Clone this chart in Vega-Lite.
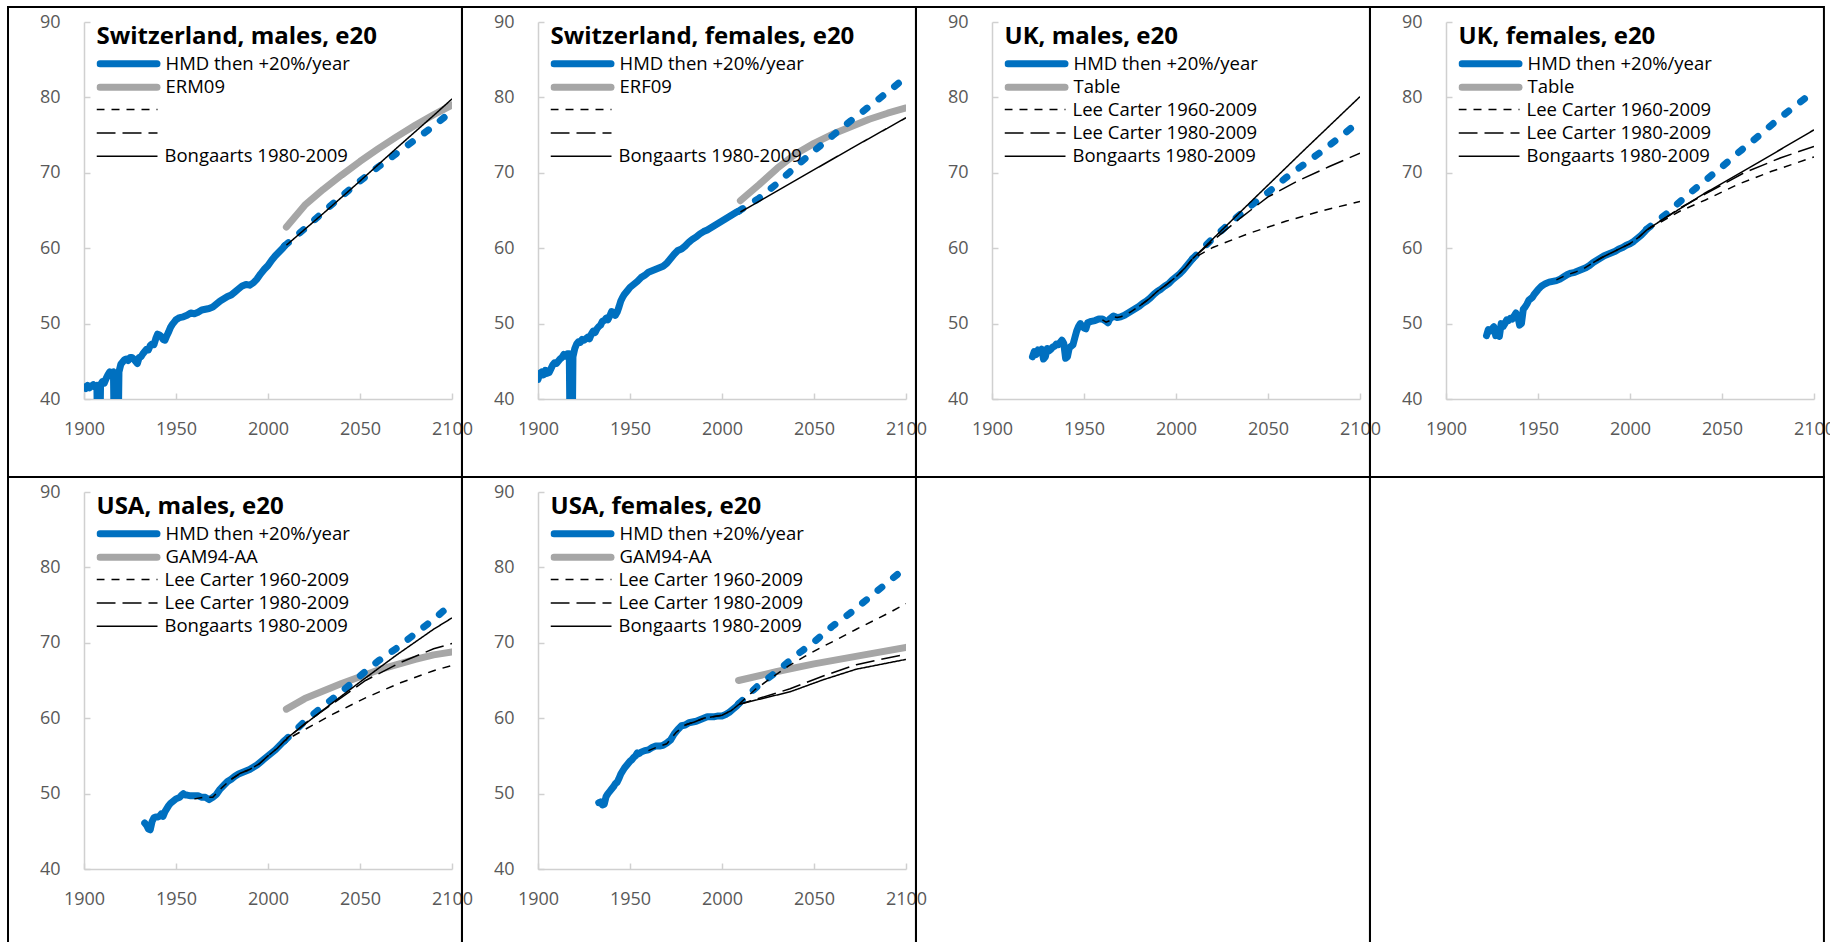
{
"$schema": "https://vega.github.io/schema/vega-lite/v6.json",
"background": "white",
"padding": {"left": 7, "top": 5, "right": 0, "bottom": 0},
"config": {
  "font": "Open Sans",
  "view": {"stroke": null},
  "axis": {"domainColor": "#D0D0D0", "domainWidth": 1.5, "tickColor": "#D0D0D0", "tickWidth": 1.5, "tickSize": -6, "labelColor": "#595959", "labelFont": "Open Sans", "labelFontSize": 18, "labelFlush": false, "grid": false, "title": null},
  "legend": {"symbolType": "stroke", "symbolSize": 3249, "clipHeight": 18, "rowPadding": 4.4, "labelFont": "Open Sans", "labelFontSize": 18.5, "labelColor": "black", "labelLimit": 400, "titleFont": "Open Sans", "titleFontSize": 24, "titleFontWeight": "bold", "titleColor": "black", "titleLimit": 600, "titlePadding": 5.75, "labelOffset": 5, "symbolOffset": 0, "padding": 0, "offset": 0}
},
"datasets": {
"CHm": [
{"s":"HMD then +20%/year","t":1900,"v":41.6},{"s":"HMD then +20%/year","t":1901,"v":41.4},{"s":"HMD then +20%/year","t":1902,"v":41.8},{"s":"HMD then +20%/year","t":1903,"v":41.5},{"s":"HMD then +20%/year","t":1904,"v":41.7},{"s":"HMD then +20%/year","t":1905,"v":41.9},{"s":"HMD then +20%/year","t":1906,"v":41.6},{"s":"HMD then +20%/year","t":1907,"v":41.8},{"s":"HMD then +20%/year","t":1908,"v":25},{"s":"HMD then +20%/year","t":1909,"v":41.9},{"s":"HMD then +20%/year","t":1910,"v":42.3},{"s":"HMD then +20%/year","t":1911,"v":42.1},{"s":"HMD then +20%/year","t":1912,"v":42.7},{"s":"HMD then +20%/year","t":1913,"v":43.2},{"s":"HMD then +20%/year","t":1914,"v":43.6},{"s":"HMD then +20%/year","t":1915,"v":43.4},{"s":"HMD then +20%/year","t":1916,"v":43.6},{"s":"HMD then +20%/year","t":1917,"v":25},{"s":"HMD then +20%/year","t":1918,"v":25},{"s":"HMD then +20%/year","t":1919,"v":43.6},{"s":"HMD then +20%/year","t":1920,"v":44.6},{"s":"HMD then +20%/year","t":1921,"v":44.9},{"s":"HMD then +20%/year","t":1922,"v":45.2},{"s":"HMD then +20%/year","t":1923,"v":45.3},{"s":"HMD then +20%/year","t":1924,"v":45.1},{"s":"HMD then +20%/year","t":1925,"v":45.5},{"s":"HMD then +20%/year","t":1926,"v":45.5},{"s":"HMD then +20%/year","t":1927,"v":45.3},{"s":"HMD then +20%/year","t":1928,"v":45.0},{"s":"HMD then +20%/year","t":1929,"v":44.7},{"s":"HMD then +20%/year","t":1930,"v":45.5},{"s":"HMD then +20%/year","t":1931,"v":45.6},{"s":"HMD then +20%/year","t":1932,"v":46.0},{"s":"HMD then +20%/year","t":1933,"v":46.3},{"s":"HMD then +20%/year","t":1934,"v":46.6},{"s":"HMD then +20%/year","t":1935,"v":46.5},{"s":"HMD then +20%/year","t":1936,"v":47.1},{"s":"HMD then +20%/year","t":1937,"v":47.3},{"s":"HMD then +20%/year","t":1938,"v":47.2},{"s":"HMD then +20%/year","t":1939,"v":48.0},{"s":"HMD then +20%/year","t":1940,"v":48.6},{"s":"HMD then +20%/year","t":1941,"v":48.5},{"s":"HMD then +20%/year","t":1942,"v":48.3},{"s":"HMD then +20%/year","t":1943,"v":47.9},{"s":"HMD then +20%/year","t":1944,"v":47.8},{"s":"HMD then +20%/year","t":1945,"v":48.4},{"s":"HMD then +20%/year","t":1946,"v":48.9},{"s":"HMD then +20%/year","t":1947,"v":49.5},{"s":"HMD then +20%/year","t":1948,"v":49.9},{"s":"HMD then +20%/year","t":1949,"v":50.2},{"s":"HMD then +20%/year","t":1950,"v":50.5},{"s":"HMD then +20%/year","t":1952,"v":50.8},{"s":"HMD then +20%/year","t":1954,"v":50.9},{"s":"HMD then +20%/year","t":1956,"v":51.1},{"s":"HMD then +20%/year","t":1958,"v":51.4},{"s":"HMD then +20%/year","t":1960,"v":51.3},{"s":"HMD then +20%/year","t":1962,"v":51.5},{"s":"HMD then +20%/year","t":1964,"v":51.8},{"s":"HMD then +20%/year","t":1966,"v":51.9},{"s":"HMD then +20%/year","t":1968,"v":52.0},{"s":"HMD then +20%/year","t":1970,"v":52.2},{"s":"HMD then +20%/year","t":1972,"v":52.6},{"s":"HMD then +20%/year","t":1974,"v":53.0},{"s":"HMD then +20%/year","t":1976,"v":53.3},{"s":"HMD then +20%/year","t":1978,"v":53.6},{"s":"HMD then +20%/year","t":1980,"v":53.8},{"s":"HMD then +20%/year","t":1982,"v":54.2},{"s":"HMD then +20%/year","t":1984,"v":54.6},{"s":"HMD then +20%/year","t":1986,"v":55.0},{"s":"HMD then +20%/year","t":1988,"v":55.2},{"s":"HMD then +20%/year","t":1990,"v":55.1},{"s":"HMD then +20%/year","t":1992,"v":55.4},{"s":"HMD then +20%/year","t":1994,"v":55.9},{"s":"HMD then +20%/year","t":1996,"v":56.6},{"s":"HMD then +20%/year","t":1998,"v":57.2},{"s":"HMD then +20%/year","t":2000,"v":57.7},{"s":"HMD then +20%/year","t":2002,"v":58.4},{"s":"HMD then +20%/year","t":2004,"v":59.0},{"s":"HMD then +20%/year","t":2006,"v":59.5},{"s":"HMD then +20%/year","t":2008,"v":60.0},{"s":"HMD then +20%/year","t":2009,"v":60.3},
{"s":"HMD projection","t":2009,"v":60.3},{"s":"HMD projection","t":2020,"v":62.6},{"s":"HMD projection","t":2030,"v":64.8},{"s":"HMD projection","t":2040,"v":66.9},{"s":"HMD projection","t":2050,"v":68.9},{"s":"HMD projection","t":2060,"v":70.8},{"s":"HMD projection","t":2070,"v":72.6},{"s":"HMD projection","t":2080,"v":74.4},{"s":"HMD projection","t":2090,"v":76.2},{"s":"HMD projection","t":2100,"v":78.2},
{"s":"ERM09","t":2010,"v":62.8},{"s":"ERM09","t":2020,"v":65.7},{"s":"ERM09","t":2030,"v":67.8},{"s":"ERM09","t":2040,"v":69.7},{"s":"ERM09","t":2050,"v":71.5},{"s":"ERM09","t":2060,"v":73.2},{"s":"ERM09","t":2070,"v":74.8},{"s":"ERM09","t":2080,"v":76.3},{"s":"ERM09","t":2090,"v":77.7},{"s":"ERM09","t":2100,"v":79.0},
{"s":"Bongaarts 1980-2009","t":2010,"v":60.4},{"s":"Bongaarts 1980-2009","t":2030,"v":64.6},{"s":"Bongaarts 1980-2009","t":2050,"v":68.9},{"s":"Bongaarts 1980-2009","t":2070,"v":73.3},{"s":"Bongaarts 1980-2009","t":2090,"v":77.6},{"s":"Bongaarts 1980-2009","t":2100,"v":79.8}
],
"CHf": [
{"s":"HMD then +20%/year","t":1900,"v":42.6},{"s":"HMD then +20%/year","t":1901,"v":43.4},{"s":"HMD then +20%/year","t":1902,"v":43.6},{"s":"HMD then +20%/year","t":1903,"v":43.2},{"s":"HMD then +20%/year","t":1904,"v":43.8},{"s":"HMD then +20%/year","t":1905,"v":43.4},{"s":"HMD then +20%/year","t":1906,"v":43.5},{"s":"HMD then +20%/year","t":1907,"v":44.0},{"s":"HMD then +20%/year","t":1908,"v":44.5},{"s":"HMD then +20%/year","t":1909,"v":44.8},{"s":"HMD then +20%/year","t":1910,"v":44.7},{"s":"HMD then +20%/year","t":1911,"v":45.0},{"s":"HMD then +20%/year","t":1912,"v":45.3},{"s":"HMD then +20%/year","t":1913,"v":45.5},{"s":"HMD then +20%/year","t":1914,"v":45.9},{"s":"HMD then +20%/year","t":1915,"v":45.7},{"s":"HMD then +20%/year","t":1916,"v":46.0},{"s":"HMD then +20%/year","t":1917,"v":46.0},{"s":"HMD then +20%/year","t":1918,"v":20},{"s":"HMD then +20%/year","t":1919,"v":45.6},{"s":"HMD then +20%/year","t":1920,"v":46.7},{"s":"HMD then +20%/year","t":1921,"v":47.3},{"s":"HMD then +20%/year","t":1922,"v":47.6},{"s":"HMD then +20%/year","t":1923,"v":47.5},{"s":"HMD then +20%/year","t":1924,"v":47.9},{"s":"HMD then +20%/year","t":1925,"v":47.8},{"s":"HMD then +20%/year","t":1926,"v":48.0},{"s":"HMD then +20%/year","t":1927,"v":48.2},{"s":"HMD then +20%/year","t":1928,"v":48.0},{"s":"HMD then +20%/year","t":1929,"v":48.6},{"s":"HMD then +20%/year","t":1930,"v":49.0},{"s":"HMD then +20%/year","t":1931,"v":48.8},{"s":"HMD then +20%/year","t":1932,"v":49.3},{"s":"HMD then +20%/year","t":1933,"v":49.6},{"s":"HMD then +20%/year","t":1934,"v":49.8},{"s":"HMD then +20%/year","t":1935,"v":50.3},{"s":"HMD then +20%/year","t":1936,"v":50.4},{"s":"HMD then +20%/year","t":1937,"v":50.7},{"s":"HMD then +20%/year","t":1938,"v":50.5},{"s":"HMD then +20%/year","t":1939,"v":51.0},{"s":"HMD then +20%/year","t":1940,"v":51.6},{"s":"HMD then +20%/year","t":1941,"v":51.4},{"s":"HMD then +20%/year","t":1942,"v":51.1},{"s":"HMD then +20%/year","t":1943,"v":51.5},{"s":"HMD then +20%/year","t":1944,"v":52.2},{"s":"HMD then +20%/year","t":1945,"v":53.0},{"s":"HMD then +20%/year","t":1946,"v":53.5},{"s":"HMD then +20%/year","t":1947,"v":53.9},{"s":"HMD then +20%/year","t":1948,"v":54.2},{"s":"HMD then +20%/year","t":1949,"v":54.5},{"s":"HMD then +20%/year","t":1950,"v":54.8},{"s":"HMD then +20%/year","t":1952,"v":55.2},{"s":"HMD then +20%/year","t":1954,"v":55.6},{"s":"HMD then +20%/year","t":1956,"v":56.1},{"s":"HMD then +20%/year","t":1958,"v":56.4},{"s":"HMD then +20%/year","t":1960,"v":56.8},{"s":"HMD then +20%/year","t":1962,"v":57.0},{"s":"HMD then +20%/year","t":1964,"v":57.2},{"s":"HMD then +20%/year","t":1966,"v":57.4},{"s":"HMD then +20%/year","t":1968,"v":57.6},{"s":"HMD then +20%/year","t":1970,"v":58.0},{"s":"HMD then +20%/year","t":1972,"v":58.6},{"s":"HMD then +20%/year","t":1974,"v":59.2},{"s":"HMD then +20%/year","t":1976,"v":59.7},{"s":"HMD then +20%/year","t":1978,"v":59.9},{"s":"HMD then +20%/year","t":1980,"v":60.3},{"s":"HMD then +20%/year","t":1982,"v":60.8},{"s":"HMD then +20%/year","t":1984,"v":61.2},{"s":"HMD then +20%/year","t":1986,"v":61.5},{"s":"HMD then +20%/year","t":1988,"v":61.9},{"s":"HMD then +20%/year","t":1990,"v":62.2},{"s":"HMD then +20%/year","t":1992,"v":62.4},{"s":"HMD then +20%/year","t":1994,"v":62.7},{"s":"HMD then +20%/year","t":1996,"v":63.0},{"s":"HMD then +20%/year","t":1998,"v":63.3},{"s":"HMD then +20%/year","t":2000,"v":63.6},{"s":"HMD then +20%/year","t":2002,"v":63.9},{"s":"HMD then +20%/year","t":2004,"v":64.2},{"s":"HMD then +20%/year","t":2006,"v":64.5},{"s":"HMD then +20%/year","t":2008,"v":64.8},{"s":"HMD then +20%/year","t":2009,"v":64.9},
{"s":"HMD projection","t":2009,"v":64.9},{"s":"HMD projection","t":2020,"v":66.6},{"s":"HMD projection","t":2030,"v":68.6},{"s":"HMD projection","t":2040,"v":70.8},{"s":"HMD projection","t":2050,"v":72.9},{"s":"HMD projection","t":2060,"v":74.9},{"s":"HMD projection","t":2070,"v":76.9},{"s":"HMD projection","t":2080,"v":78.8},{"s":"HMD projection","t":2090,"v":80.7},{"s":"HMD projection","t":2100,"v":82.7},
{"s":"ERF09","t":2010,"v":66.3},{"s":"ERF09","t":2020,"v":68.4},{"s":"ERF09","t":2030,"v":70.6},{"s":"ERF09","t":2040,"v":72.5},{"s":"ERF09","t":2050,"v":73.9},{"s":"ERF09","t":2060,"v":75.1},{"s":"ERF09","t":2070,"v":76.1},{"s":"ERF09","t":2080,"v":77.1},{"s":"ERF09","t":2090,"v":77.9},{"s":"ERF09","t":2100,"v":78.6},
{"s":"Bongaarts 1980-2009","t":2010,"v":64.8},{"s":"Bongaarts 1980-2009","t":2040,"v":69.0},{"s":"Bongaarts 1980-2009","t":2070,"v":73.2},{"s":"Bongaarts 1980-2009","t":2100,"v":77.3}
],
"UKm": [
{"s":"HMD then +20%/year","t":1922,"v":45.6},{"s":"HMD then +20%/year","t":1923,"v":46.3},{"s":"HMD then +20%/year","t":1924,"v":45.9},{"s":"HMD then +20%/year","t":1925,"v":46.5},{"s":"HMD then +20%/year","t":1926,"v":46.2},{"s":"HMD then +20%/year","t":1927,"v":46.6},{"s":"HMD then +20%/year","t":1928,"v":45.3},{"s":"HMD then +20%/year","t":1929,"v":45.6},{"s":"HMD then +20%/year","t":1930,"v":46.7},{"s":"HMD then +20%/year","t":1931,"v":46.4},{"s":"HMD then +20%/year","t":1932,"v":46.6},{"s":"HMD then +20%/year","t":1933,"v":46.9},{"s":"HMD then +20%/year","t":1934,"v":47.0},{"s":"HMD then +20%/year","t":1935,"v":47.3},{"s":"HMD then +20%/year","t":1936,"v":47.2},{"s":"HMD then +20%/year","t":1937,"v":47.5},{"s":"HMD then +20%/year","t":1938,"v":47.8},{"s":"HMD then +20%/year","t":1939,"v":47.4},{"s":"HMD then +20%/year","t":1940,"v":45.4},{"s":"HMD then +20%/year","t":1941,"v":45.6},{"s":"HMD then +20%/year","t":1942,"v":46.8},{"s":"HMD then +20%/year","t":1943,"v":47.0},{"s":"HMD then +20%/year","t":1944,"v":47.2},{"s":"HMD then +20%/year","t":1945,"v":48.1},{"s":"HMD then +20%/year","t":1946,"v":49.0},{"s":"HMD then +20%/year","t":1947,"v":49.6},{"s":"HMD then +20%/year","t":1948,"v":50.0},{"s":"HMD then +20%/year","t":1949,"v":49.7},{"s":"HMD then +20%/year","t":1950,"v":49.4},{"s":"HMD then +20%/year","t":1951,"v":49.3},{"s":"HMD then +20%/year","t":1952,"v":50.1},{"s":"HMD then +20%/year","t":1953,"v":50.2},{"s":"HMD then +20%/year","t":1954,"v":50.3},{"s":"HMD then +20%/year","t":1956,"v":50.4},{"s":"HMD then +20%/year","t":1958,"v":50.6},{"s":"HMD then +20%/year","t":1960,"v":50.6},{"s":"HMD then +20%/year","t":1962,"v":50.3},{"s":"HMD then +20%/year","t":1963,"v":50.1},{"s":"HMD then +20%/year","t":1964,"v":50.6},{"s":"HMD then +20%/year","t":1966,"v":51.0},{"s":"HMD then +20%/year","t":1968,"v":50.8},{"s":"HMD then +20%/year","t":1970,"v":50.9},{"s":"HMD then +20%/year","t":1972,"v":51.1},{"s":"HMD then +20%/year","t":1974,"v":51.4},{"s":"HMD then +20%/year","t":1976,"v":51.7},{"s":"HMD then +20%/year","t":1978,"v":52.0},{"s":"HMD then +20%/year","t":1980,"v":52.3},{"s":"HMD then +20%/year","t":1982,"v":52.7},{"s":"HMD then +20%/year","t":1984,"v":53.0},{"s":"HMD then +20%/year","t":1986,"v":53.4},{"s":"HMD then +20%/year","t":1988,"v":53.9},{"s":"HMD then +20%/year","t":1990,"v":54.3},{"s":"HMD then +20%/year","t":1992,"v":54.6},{"s":"HMD then +20%/year","t":1994,"v":55.0},{"s":"HMD then +20%/year","t":1996,"v":55.3},{"s":"HMD then +20%/year","t":1998,"v":55.8},{"s":"HMD then +20%/year","t":2000,"v":56.2},{"s":"HMD then +20%/year","t":2002,"v":56.6},{"s":"HMD then +20%/year","t":2004,"v":57.1},{"s":"HMD then +20%/year","t":2006,"v":57.7},{"s":"HMD then +20%/year","t":2008,"v":58.3},{"s":"HMD then +20%/year","t":2009,"v":58.6},
{"s":"HMD projection","t":2009,"v":58.6},{"s":"HMD projection","t":2020,"v":61.3},{"s":"HMD projection","t":2030,"v":63.5},{"s":"HMD projection","t":2040,"v":65.5},{"s":"HMD projection","t":2050,"v":67.4},{"s":"HMD projection","t":2060,"v":69.4},{"s":"HMD projection","t":2070,"v":71.2},{"s":"HMD projection","t":2080,"v":73.0},{"s":"HMD projection","t":2090,"v":74.9},{"s":"HMD projection","t":2100,"v":76.9},
{"s":"Lee Carter 1960-2009","t":1960,"v":50.5},{"s":"Lee Carter 1960-2009","t":1962,"v":50.2},{"s":"Lee Carter 1960-2009","t":1964,"v":50.4},{"s":"Lee Carter 1960-2009","t":1966,"v":50.9},{"s":"Lee Carter 1960-2009","t":1968,"v":50.8},{"s":"Lee Carter 1960-2009","t":1970,"v":50.9},{"s":"Lee Carter 1960-2009","t":1975,"v":51.5},{"s":"Lee Carter 1960-2009","t":1980,"v":52.3},{"s":"Lee Carter 1960-2009","t":1985,"v":53.2},{"s":"Lee Carter 1960-2009","t":1990,"v":54.3},{"s":"Lee Carter 1960-2009","t":1995,"v":55.2},{"s":"Lee Carter 1960-2009","t":2000,"v":56.2},{"s":"Lee Carter 1960-2009","t":2005,"v":57.4},{"s":"Lee Carter 1960-2009","t":2009,"v":58.6},{"s":"Lee Carter 1960-2009","t":2020,"v":60.1},{"s":"Lee Carter 1960-2009","t":2040,"v":62.0},{"s":"Lee Carter 1960-2009","t":2060,"v":63.6},{"s":"Lee Carter 1960-2009","t":2080,"v":65.0},{"s":"Lee Carter 1960-2009","t":2100,"v":66.2},
{"s":"Lee Carter 1980-2009","t":1980,"v":52.3},{"s":"Lee Carter 1980-2009","t":1985,"v":53.2},{"s":"Lee Carter 1980-2009","t":1990,"v":54.3},{"s":"Lee Carter 1980-2009","t":1995,"v":55.2},{"s":"Lee Carter 1980-2009","t":2000,"v":56.2},{"s":"Lee Carter 1980-2009","t":2005,"v":57.4},{"s":"Lee Carter 1980-2009","t":2009,"v":58.6},{"s":"Lee Carter 1980-2009","t":2020,"v":61.0},{"s":"Lee Carter 1980-2009","t":2035,"v":64.0},{"s":"Lee Carter 1980-2009","t":2050,"v":66.8},{"s":"Lee Carter 1980-2009","t":2066,"v":68.9},{"s":"Lee Carter 1980-2009","t":2083,"v":70.8},{"s":"Lee Carter 1980-2009","t":2100,"v":72.6},
{"s":"Bongaarts 1980-2009","t":2009,"v":58.6},{"s":"Bongaarts 1980-2009","t":2040,"v":66.0},{"s":"Bongaarts 1980-2009","t":2070,"v":73.1},{"s":"Bongaarts 1980-2009","t":2100,"v":80.1}
],
"UKf": [
{"s":"HMD then +20%/year","t":1922,"v":48.4},{"s":"HMD then +20%/year","t":1923,"v":49.2},{"s":"HMD then +20%/year","t":1924,"v":49.0},{"s":"HMD then +20%/year","t":1925,"v":49.3},{"s":"HMD then +20%/year","t":1926,"v":49.6},{"s":"HMD then +20%/year","t":1927,"v":48.4},{"s":"HMD then +20%/year","t":1928,"v":49.0},{"s":"HMD then +20%/year","t":1929,"v":48.3},{"s":"HMD then +20%/year","t":1930,"v":50.0},{"s":"HMD then +20%/year","t":1931,"v":49.6},{"s":"HMD then +20%/year","t":1932,"v":50.0},{"s":"HMD then +20%/year","t":1933,"v":50.5},{"s":"HMD then +20%/year","t":1934,"v":50.4},{"s":"HMD then +20%/year","t":1935,"v":50.7},{"s":"HMD then +20%/year","t":1936,"v":50.6},{"s":"HMD then +20%/year","t":1937,"v":51.0},{"s":"HMD then +20%/year","t":1938,"v":51.4},{"s":"HMD then +20%/year","t":1939,"v":51.0},{"s":"HMD then +20%/year","t":1940,"v":49.8},{"s":"HMD then +20%/year","t":1941,"v":50.0},{"s":"HMD then +20%/year","t":1942,"v":51.9},{"s":"HMD then +20%/year","t":1943,"v":52.2},{"s":"HMD then +20%/year","t":1944,"v":52.6},{"s":"HMD then +20%/year","t":1945,"v":53.1},{"s":"HMD then +20%/year","t":1946,"v":53.3},{"s":"HMD then +20%/year","t":1947,"v":53.5},{"s":"HMD then +20%/year","t":1948,"v":53.9},{"s":"HMD then +20%/year","t":1949,"v":54.2},{"s":"HMD then +20%/year","t":1950,"v":54.5},{"s":"HMD then +20%/year","t":1952,"v":55.0},{"s":"HMD then +20%/year","t":1954,"v":55.3},{"s":"HMD then +20%/year","t":1956,"v":55.5},{"s":"HMD then +20%/year","t":1958,"v":55.6},{"s":"HMD then +20%/year","t":1960,"v":55.7},{"s":"HMD then +20%/year","t":1962,"v":55.9},{"s":"HMD then +20%/year","t":1964,"v":56.2},{"s":"HMD then +20%/year","t":1966,"v":56.5},{"s":"HMD then +20%/year","t":1968,"v":56.7},{"s":"HMD then +20%/year","t":1970,"v":56.8},{"s":"HMD then +20%/year","t":1972,"v":57.0},{"s":"HMD then +20%/year","t":1974,"v":57.2},{"s":"HMD then +20%/year","t":1976,"v":57.4},{"s":"HMD then +20%/year","t":1978,"v":57.7},{"s":"HMD then +20%/year","t":1980,"v":58.1},{"s":"HMD then +20%/year","t":1982,"v":58.4},{"s":"HMD then +20%/year","t":1984,"v":58.7},{"s":"HMD then +20%/year","t":1986,"v":59.0},{"s":"HMD then +20%/year","t":1988,"v":59.2},{"s":"HMD then +20%/year","t":1990,"v":59.4},{"s":"HMD then +20%/year","t":1992,"v":59.6},{"s":"HMD then +20%/year","t":1994,"v":59.9},{"s":"HMD then +20%/year","t":1996,"v":60.1},{"s":"HMD then +20%/year","t":1998,"v":60.4},{"s":"HMD then +20%/year","t":2000,"v":60.6},{"s":"HMD then +20%/year","t":2002,"v":60.9},{"s":"HMD then +20%/year","t":2004,"v":61.3},{"s":"HMD then +20%/year","t":2006,"v":61.7},{"s":"HMD then +20%/year","t":2008,"v":62.2},{"s":"HMD then +20%/year","t":2009,"v":62.5},
{"s":"HMD projection","t":2009,"v":62.5},{"s":"HMD projection","t":2020,"v":64.6},{"s":"HMD projection","t":2030,"v":66.8},{"s":"HMD projection","t":2040,"v":68.8},{"s":"HMD projection","t":2050,"v":70.8},{"s":"HMD projection","t":2060,"v":72.9},{"s":"HMD projection","t":2070,"v":74.9},{"s":"HMD projection","t":2080,"v":77.0},{"s":"HMD projection","t":2090,"v":78.9},{"s":"HMD projection","t":2100,"v":80.8},
{"s":"Lee Carter 1960-2009","t":1960,"v":55.8},{"s":"Lee Carter 1960-2009","t":1965,"v":56.4},{"s":"Lee Carter 1960-2009","t":1970,"v":56.8},{"s":"Lee Carter 1960-2009","t":1975,"v":57.3},{"s":"Lee Carter 1960-2009","t":1980,"v":58.1},{"s":"Lee Carter 1960-2009","t":1985,"v":58.8},{"s":"Lee Carter 1960-2009","t":1990,"v":59.4},{"s":"Lee Carter 1960-2009","t":1995,"v":60.0},{"s":"Lee Carter 1960-2009","t":2000,"v":60.6},{"s":"Lee Carter 1960-2009","t":2005,"v":61.5},{"s":"Lee Carter 1960-2009","t":2009,"v":62.4},{"s":"Lee Carter 1960-2009","t":2027,"v":64.9},{"s":"Lee Carter 1960-2009","t":2041,"v":66.4},{"s":"Lee Carter 1960-2009","t":2059,"v":68.5},{"s":"Lee Carter 1960-2009","t":2077,"v":70.2},{"s":"Lee Carter 1960-2009","t":2100,"v":72.1},
{"s":"Lee Carter 1980-2009","t":1980,"v":58.1},{"s":"Lee Carter 1980-2009","t":1985,"v":58.8},{"s":"Lee Carter 1980-2009","t":1990,"v":59.4},{"s":"Lee Carter 1980-2009","t":1995,"v":60.0},{"s":"Lee Carter 1980-2009","t":2000,"v":60.6},{"s":"Lee Carter 1980-2009","t":2005,"v":61.5},{"s":"Lee Carter 1980-2009","t":2009,"v":62.4},{"s":"Lee Carter 1980-2009","t":2027,"v":65.3},{"s":"Lee Carter 1980-2009","t":2041,"v":67.2},{"s":"Lee Carter 1980-2009","t":2062,"v":70.0},{"s":"Lee Carter 1980-2009","t":2082,"v":72.0},{"s":"Lee Carter 1980-2009","t":2100,"v":73.5},
{"s":"Bongaarts 1980-2009","t":2010,"v":62.6},{"s":"Bongaarts 1980-2009","t":2040,"v":67.2},{"s":"Bongaarts 1980-2009","t":2070,"v":71.4},{"s":"Bongaarts 1980-2009","t":2100,"v":75.7}
],
"USm": [
{"s":"HMD then +20%/year","t":1933,"v":46.1},{"s":"HMD then +20%/year","t":1934,"v":45.8},{"s":"HMD then +20%/year","t":1935,"v":45.3},{"s":"HMD then +20%/year","t":1936,"v":45.2},{"s":"HMD then +20%/year","t":1937,"v":46.3},{"s":"HMD then +20%/year","t":1938,"v":46.8},{"s":"HMD then +20%/year","t":1939,"v":46.9},{"s":"HMD then +20%/year","t":1940,"v":46.9},{"s":"HMD then +20%/year","t":1941,"v":47.0},{"s":"HMD then +20%/year","t":1942,"v":47.3},{"s":"HMD then +20%/year","t":1943,"v":47.0},{"s":"HMD then +20%/year","t":1944,"v":47.6},{"s":"HMD then +20%/year","t":1945,"v":48.0},{"s":"HMD then +20%/year","t":1946,"v":48.4},{"s":"HMD then +20%/year","t":1947,"v":48.7},{"s":"HMD then +20%/year","t":1948,"v":48.9},{"s":"HMD then +20%/year","t":1949,"v":49.1},{"s":"HMD then +20%/year","t":1950,"v":49.3},{"s":"HMD then +20%/year","t":1951,"v":49.4},{"s":"HMD then +20%/year","t":1952,"v":49.5},{"s":"HMD then +20%/year","t":1953,"v":49.8},{"s":"HMD then +20%/year","t":1954,"v":50.0},{"s":"HMD then +20%/year","t":1955,"v":49.8},{"s":"HMD then +20%/year","t":1956,"v":49.8},{"s":"HMD then +20%/year","t":1958,"v":49.7},{"s":"HMD then +20%/year","t":1960,"v":49.7},{"s":"HMD then +20%/year","t":1962,"v":49.7},{"s":"HMD then +20%/year","t":1964,"v":49.5},{"s":"HMD then +20%/year","t":1966,"v":49.5},{"s":"HMD then +20%/year","t":1968,"v":49.2},{"s":"HMD then +20%/year","t":1970,"v":49.5},{"s":"HMD then +20%/year","t":1972,"v":49.9},{"s":"HMD then +20%/year","t":1974,"v":50.6},{"s":"HMD then +20%/year","t":1976,"v":51.1},{"s":"HMD then +20%/year","t":1978,"v":51.6},{"s":"HMD then +20%/year","t":1980,"v":51.9},{"s":"HMD then +20%/year","t":1982,"v":52.3},{"s":"HMD then +20%/year","t":1984,"v":52.6},{"s":"HMD then +20%/year","t":1986,"v":52.8},{"s":"HMD then +20%/year","t":1988,"v":53.0},{"s":"HMD then +20%/year","t":1990,"v":53.2},{"s":"HMD then +20%/year","t":1992,"v":53.5},{"s":"HMD then +20%/year","t":1994,"v":53.8},{"s":"HMD then +20%/year","t":1996,"v":54.2},{"s":"HMD then +20%/year","t":1998,"v":54.6},{"s":"HMD then +20%/year","t":2000,"v":55.0},{"s":"HMD then +20%/year","t":2002,"v":55.4},{"s":"HMD then +20%/year","t":2004,"v":55.8},{"s":"HMD then +20%/year","t":2006,"v":56.3},{"s":"HMD then +20%/year","t":2008,"v":56.8},{"s":"HMD then +20%/year","t":2009,"v":57.0},
{"s":"HMD projection","t":2009,"v":57.0},{"s":"HMD projection","t":2020,"v":59.6},{"s":"HMD projection","t":2030,"v":61.6},{"s":"HMD projection","t":2040,"v":63.5},{"s":"HMD projection","t":2050,"v":65.6},{"s":"HMD projection","t":2060,"v":67.6},{"s":"HMD projection","t":2070,"v":69.3},{"s":"HMD projection","t":2080,"v":71.2},{"s":"HMD projection","t":2090,"v":73.1},{"s":"HMD projection","t":2100,"v":75.2},
{"s":"GAM94-AA","t":2010,"v":61.2},{"s":"GAM94-AA","t":2020,"v":62.6},{"s":"GAM94-AA","t":2030,"v":63.6},{"s":"GAM94-AA","t":2040,"v":64.6},{"s":"GAM94-AA","t":2050,"v":65.5},{"s":"GAM94-AA","t":2060,"v":66.4},{"s":"GAM94-AA","t":2070,"v":67.1},{"s":"GAM94-AA","t":2080,"v":67.8},{"s":"GAM94-AA","t":2090,"v":68.4},{"s":"GAM94-AA","t":2100,"v":68.8},
{"s":"Lee Carter 1960-2009","t":1960,"v":49.3},{"s":"Lee Carter 1960-2009","t":1965,"v":49.5},{"s":"Lee Carter 1960-2009","t":1970,"v":49.5},{"s":"Lee Carter 1960-2009","t":1975,"v":50.8},{"s":"Lee Carter 1960-2009","t":1980,"v":51.9},{"s":"Lee Carter 1960-2009","t":1985,"v":52.7},{"s":"Lee Carter 1960-2009","t":1990,"v":53.2},{"s":"Lee Carter 1960-2009","t":1995,"v":53.9},{"s":"Lee Carter 1960-2009","t":2000,"v":55.0},{"s":"Lee Carter 1960-2009","t":2005,"v":56.0},{"s":"Lee Carter 1960-2009","t":2009,"v":57.0},{"s":"Lee Carter 1960-2009","t":2017,"v":58.1},{"s":"Lee Carter 1960-2009","t":2035,"v":60.5},{"s":"Lee Carter 1960-2009","t":2053,"v":62.7},{"s":"Lee Carter 1960-2009","t":2072,"v":64.7},{"s":"Lee Carter 1960-2009","t":2090,"v":66.3},{"s":"Lee Carter 1960-2009","t":2100,"v":67.0},
{"s":"Lee Carter 1980-2009","t":1980,"v":51.9},{"s":"Lee Carter 1980-2009","t":1985,"v":52.7},{"s":"Lee Carter 1980-2009","t":1990,"v":53.2},{"s":"Lee Carter 1980-2009","t":1995,"v":53.9},{"s":"Lee Carter 1980-2009","t":2000,"v":55.0},{"s":"Lee Carter 1980-2009","t":2005,"v":56.0},{"s":"Lee Carter 1980-2009","t":2009,"v":57.0},{"s":"Lee Carter 1980-2009","t":2020,"v":59.3},{"s":"Lee Carter 1980-2009","t":2035,"v":61.9},{"s":"Lee Carter 1980-2009","t":2053,"v":65.0},{"s":"Lee Carter 1980-2009","t":2072,"v":67.4},{"s":"Lee Carter 1980-2009","t":2090,"v":69.2},{"s":"Lee Carter 1980-2009","t":2100,"v":69.9},
{"s":"Bongaarts 1980-2009","t":2010,"v":57.3},{"s":"Bongaarts 1980-2009","t":2030,"v":61.1},{"s":"Bongaarts 1980-2009","t":2050,"v":64.8},{"s":"Bongaarts 1980-2009","t":2070,"v":68.4},{"s":"Bongaarts 1980-2009","t":2090,"v":71.8},{"s":"Bongaarts 1980-2009","t":2100,"v":73.3}
],
"USf": [
{"s":"HMD then +20%/year","t":1933,"v":48.8},{"s":"HMD then +20%/year","t":1934,"v":48.9},{"s":"HMD then +20%/year","t":1935,"v":48.5},{"s":"HMD then +20%/year","t":1936,"v":48.6},{"s":"HMD then +20%/year","t":1937,"v":49.6},{"s":"HMD then +20%/year","t":1938,"v":50.0},{"s":"HMD then +20%/year","t":1939,"v":50.3},{"s":"HMD then +20%/year","t":1940,"v":50.6},{"s":"HMD then +20%/year","t":1941,"v":50.9},{"s":"HMD then +20%/year","t":1942,"v":51.3},{"s":"HMD then +20%/year","t":1943,"v":51.5},{"s":"HMD then +20%/year","t":1944,"v":52.0},{"s":"HMD then +20%/year","t":1945,"v":52.6},{"s":"HMD then +20%/year","t":1946,"v":53.0},{"s":"HMD then +20%/year","t":1947,"v":53.4},{"s":"HMD then +20%/year","t":1948,"v":53.7},{"s":"HMD then +20%/year","t":1949,"v":54.0},{"s":"HMD then +20%/year","t":1950,"v":54.3},{"s":"HMD then +20%/year","t":1951,"v":54.5},{"s":"HMD then +20%/year","t":1952,"v":54.8},{"s":"HMD then +20%/year","t":1953,"v":55.0},{"s":"HMD then +20%/year","t":1954,"v":55.4},{"s":"HMD then +20%/year","t":1955,"v":55.3},{"s":"HMD then +20%/year","t":1956,"v":55.5},{"s":"HMD then +20%/year","t":1958,"v":55.7},{"s":"HMD then +20%/year","t":1960,"v":55.8},{"s":"HMD then +20%/year","t":1962,"v":56.1},{"s":"HMD then +20%/year","t":1964,"v":56.3},{"s":"HMD then +20%/year","t":1966,"v":56.3},{"s":"HMD then +20%/year","t":1968,"v":56.4},{"s":"HMD then +20%/year","t":1970,"v":56.7},{"s":"HMD then +20%/year","t":1972,"v":57.1},{"s":"HMD then +20%/year","t":1974,"v":57.9},{"s":"HMD then +20%/year","t":1976,"v":58.5},{"s":"HMD then +20%/year","t":1978,"v":59.0},{"s":"HMD then +20%/year","t":1980,"v":59.1},{"s":"HMD then +20%/year","t":1982,"v":59.4},{"s":"HMD then +20%/year","t":1984,"v":59.5},{"s":"HMD then +20%/year","t":1986,"v":59.6},{"s":"HMD then +20%/year","t":1988,"v":59.8},{"s":"HMD then +20%/year","t":1990,"v":60.0},{"s":"HMD then +20%/year","t":1992,"v":60.2},{"s":"HMD then +20%/year","t":1994,"v":60.2},{"s":"HMD then +20%/year","t":1996,"v":60.2},{"s":"HMD then +20%/year","t":1998,"v":60.3},{"s":"HMD then +20%/year","t":2000,"v":60.3},{"s":"HMD then +20%/year","t":2002,"v":60.5},{"s":"HMD then +20%/year","t":2004,"v":60.8},{"s":"HMD then +20%/year","t":2006,"v":61.2},{"s":"HMD then +20%/year","t":2008,"v":61.6},{"s":"HMD then +20%/year","t":2009,"v":61.9},
{"s":"HMD projection","t":2009,"v":61.9},{"s":"HMD projection","t":2020,"v":64.4},{"s":"HMD projection","t":2030,"v":66.2},{"s":"HMD projection","t":2040,"v":68.3},{"s":"HMD projection","t":2050,"v":70.1},{"s":"HMD projection","t":2060,"v":72.2},{"s":"HMD projection","t":2070,"v":74.0},{"s":"HMD projection","t":2080,"v":76.0},{"s":"HMD projection","t":2090,"v":78.0},{"s":"HMD projection","t":2100,"v":80.0},
{"s":"GAM94-AA","t":2009,"v":65.0},{"s":"GAM94-AA","t":2030,"v":66.2},{"s":"GAM94-AA","t":2050,"v":67.2},{"s":"GAM94-AA","t":2075,"v":68.3},{"s":"GAM94-AA","t":2100,"v":69.4},
{"s":"Lee Carter 1960-2009","t":1960,"v":55.7},{"s":"Lee Carter 1960-2009","t":1965,"v":56.2},{"s":"Lee Carter 1960-2009","t":1970,"v":56.6},{"s":"Lee Carter 1960-2009","t":1975,"v":58.1},{"s":"Lee Carter 1960-2009","t":1980,"v":59.1},{"s":"Lee Carter 1960-2009","t":1985,"v":59.5},{"s":"Lee Carter 1960-2009","t":1990,"v":60.0},{"s":"Lee Carter 1960-2009","t":1995,"v":60.2},{"s":"Lee Carter 1960-2009","t":2000,"v":60.4},{"s":"Lee Carter 1960-2009","t":2005,"v":61.0},{"s":"Lee Carter 1960-2009","t":2009,"v":61.8},{"s":"Lee Carter 1960-2009","t":2018,"v":63.8},{"s":"Lee Carter 1960-2009","t":2027,"v":65.4},{"s":"Lee Carter 1960-2009","t":2036,"v":66.9},{"s":"Lee Carter 1960-2009","t":2045,"v":68.2},{"s":"Lee Carter 1960-2009","t":2054,"v":69.4},{"s":"Lee Carter 1960-2009","t":2063,"v":70.5},{"s":"Lee Carter 1960-2009","t":2073,"v":71.8},{"s":"Lee Carter 1960-2009","t":2082,"v":72.9},{"s":"Lee Carter 1960-2009","t":2091,"v":74.0},{"s":"Lee Carter 1960-2009","t":2100,"v":75.2},
{"s":"Lee Carter 1980-2009","t":1980,"v":59.1},{"s":"Lee Carter 1980-2009","t":1985,"v":59.5},{"s":"Lee Carter 1980-2009","t":1990,"v":60.0},{"s":"Lee Carter 1980-2009","t":1995,"v":60.2},{"s":"Lee Carter 1980-2009","t":2000,"v":60.4},{"s":"Lee Carter 1980-2009","t":2005,"v":61.0},{"s":"Lee Carter 1980-2009","t":2009,"v":61.8},{"s":"Lee Carter 1980-2009","t":2037,"v":63.9},{"s":"Lee Carter 1980-2009","t":2055,"v":65.6},{"s":"Lee Carter 1980-2009","t":2073,"v":67.1},{"s":"Lee Carter 1980-2009","t":2100,"v":68.5},
{"s":"Bongaarts 1980-2009","t":2010,"v":61.9},{"s":"Bongaarts 1980-2009","t":2037,"v":63.5},{"s":"Bongaarts 1980-2009","t":2055,"v":65.1},{"s":"Bongaarts 1980-2009","t":2073,"v":66.5},{"s":"Bongaarts 1980-2009","t":2100,"v":67.8}
]
},
"bounds": "flush",
"spacing": {"row": 93, "column": 86},
"columns": 4,
"resolve": {"scale": {"color": "independent", "strokeDash": "independent"}, "legend": {"color": "independent", "strokeDash": "independent"}},
"concat": [
{"width": 368, "height": 377, "data": {"name": "CHm"}, "layer": [
 {"transform": [{"filter": {"field": "s", "oneOf": ["HMD then +20%/year", "ERM09"]}}],
  "mark": {"type": "line", "clip": true, "strokeWidth": 7, "strokeCap": "round", "strokeJoin": "round"},
  "encoding": {
   "x": {"field": "t", "type": "quantitative", "scale": {"domain": [1900, 2100], "nice": false, "zero": false}, "axis": {"values": [1900, 1950, 2000, 2050, 2100], "format": "d", "labelPadding": 27}},
   "y": {"field": "v", "type": "quantitative", "scale": {"domain": [40, 90], "nice": false, "zero": false}, "axis": {"values": [40, 50, 60, 70, 80, 90], "labelPadding": 30}},
   "color": {"field": "s", "type": "nominal", "scale": {"domain": ["HMD then +20%/year", "ERM09"], "range": ["#0070C0", "#A6A6A6"]},
    "legend": {"title": "Switzerland, males, e20", "orient": "none", "legendX": 12.5, "legendY": 3, "symbolStrokeWidth": 7, "encode": {"symbols": {"update": {"strokeCap": {"value": "round"}}}}}}
  }},
 {"transform": [{"filter": {"field": "s", "equal": "HMD projection"}}],
  "mark": {"type": "line", "clip": true, "color": "#0070C0", "strokeWidth": 7, "strokeDash": [5, 15], "strokeCap": "round"},
  "encoding": {"x": {"field": "t", "type": "quantitative"}, "y": {"field": "v", "type": "quantitative"}}},
 {"transform": [{"filter": {"field": "s", "oneOf": ["Lee Carter 1960-2009", "Lee Carter 1980-2009", "Bongaarts 1980-2009"]}}],
  "mark": {"type": "line", "clip": true, "strokeWidth": 1.5, "color": "black"},
  "encoding": {"x": {"field": "t", "type": "quantitative"}, "y": {"field": "v", "type": "quantitative"},
   "strokeDash": {"field": "s", "type": "nominal", "scale": {"domain": ["Lee Carter 1960-2009", "Lee Carter 1980-2009", "Bongaarts 1980-2009"], "range": [[8, 7], [19, 7], [1, 0]]},
    "legend": {"title": null, "orient": "none", "legendX": 12.5, "legendY": 78.5, "symbolSize": 3721, "symbolOffset": -1, "symbolStrokeWidth": 1.5, "symbolStrokeColor": "black", "labelOffset": 6, "labelExpr": "indexof(datum.label, 'Lee') == 0 ? '' : datum.label"}}}},
 {"data": {"values": [{}]}, "mark": {"type": "rect", "filled": false, "stroke": "black", "strokeWidth": 2},
  "encoding": {"x": {"datum": 1858.7, "type": "quantitative"}, "x2": {"datum": 2105.4}, "y": {"datum": 29.66, "type": "quantitative"}, "y2": {"datum": 91.99}}}
]},
{"width": 368, "height": 377, "data": {"name": "CHf"}, "layer": [
 {"transform": [{"filter": {"field": "s", "oneOf": ["HMD then +20%/year", "ERF09"]}}],
  "mark": {"type": "line", "clip": true, "strokeWidth": 7, "strokeCap": "round", "strokeJoin": "round"},
  "encoding": {
   "x": {"field": "t", "type": "quantitative", "scale": {"domain": [1900, 2100], "nice": false, "zero": false}, "axis": {"values": [1900, 1950, 2000, 2050, 2100], "format": "d", "labelPadding": 27}},
   "y": {"field": "v", "type": "quantitative", "scale": {"domain": [40, 90], "nice": false, "zero": false}, "axis": {"values": [40, 50, 60, 70, 80, 90], "labelPadding": 30}},
   "color": {"field": "s", "type": "nominal", "scale": {"domain": ["HMD then +20%/year", "ERF09"], "range": ["#0070C0", "#A6A6A6"]},
    "legend": {"title": "Switzerland, females, e20", "orient": "none", "legendX": 12.5, "legendY": 3, "symbolStrokeWidth": 7, "encode": {"symbols": {"update": {"strokeCap": {"value": "round"}}}}}}
  }},
 {"transform": [{"filter": {"field": "s", "equal": "HMD projection"}}],
  "mark": {"type": "line", "clip": true, "color": "#0070C0", "strokeWidth": 7, "strokeDash": [5, 15], "strokeCap": "round"},
  "encoding": {"x": {"field": "t", "type": "quantitative"}, "y": {"field": "v", "type": "quantitative"}}},
 {"transform": [{"filter": {"field": "s", "oneOf": ["Lee Carter 1960-2009", "Lee Carter 1980-2009", "Bongaarts 1980-2009"]}}],
  "mark": {"type": "line", "clip": true, "strokeWidth": 1.5, "color": "black"},
  "encoding": {"x": {"field": "t", "type": "quantitative"}, "y": {"field": "v", "type": "quantitative"},
   "strokeDash": {"field": "s", "type": "nominal", "scale": {"domain": ["Lee Carter 1960-2009", "Lee Carter 1980-2009", "Bongaarts 1980-2009"], "range": [[8, 7], [19, 7], [1, 0]]},
    "legend": {"title": null, "orient": "none", "legendX": 12.5, "legendY": 78.5, "symbolSize": 3721, "symbolOffset": -1, "symbolStrokeWidth": 1.5, "symbolStrokeColor": "black", "labelOffset": 6, "labelExpr": "indexof(datum.label, 'Lee') == 0 ? '' : datum.label"}}}},
 {"data": {"values": [{}]}, "mark": {"type": "rect", "filled": false, "stroke": "black", "strokeWidth": 2},
  "encoding": {"x": {"datum": 1858.7, "type": "quantitative"}, "x2": {"datum": 2105.4}, "y": {"datum": 29.66, "type": "quantitative"}, "y2": {"datum": 91.99}}}
]},
{"width": 368, "height": 377, "data": {"name": "UKm"}, "layer": [
 {"transform": [{"filter": {"field": "s", "oneOf": ["HMD then +20%/year", "Table"]}}],
  "mark": {"type": "line", "clip": true, "strokeWidth": 7, "strokeCap": "round", "strokeJoin": "round"},
  "encoding": {
   "x": {"field": "t", "type": "quantitative", "scale": {"domain": [1900, 2100], "nice": false, "zero": false}, "axis": {"values": [1900, 1950, 2000, 2050, 2100], "format": "d", "labelPadding": 27}},
   "y": {"field": "v", "type": "quantitative", "scale": {"domain": [40, 90], "nice": false, "zero": false}, "axis": {"values": [40, 50, 60, 70, 80, 90], "labelPadding": 30}},
   "color": {"field": "s", "type": "nominal", "scale": {"domain": ["HMD then +20%/year", "Table"], "range": ["#0070C0", "#A6A6A6"]},
    "legend": {"title": "UK, males, e20", "orient": "none", "legendX": 12.5, "legendY": 3, "symbolStrokeWidth": 7, "encode": {"symbols": {"update": {"strokeCap": {"value": "round"}}}}}}
  }},
 {"transform": [{"filter": {"field": "s", "equal": "HMD projection"}}],
  "mark": {"type": "line", "clip": true, "color": "#0070C0", "strokeWidth": 7, "strokeDash": [5, 15], "strokeCap": "round"},
  "encoding": {"x": {"field": "t", "type": "quantitative"}, "y": {"field": "v", "type": "quantitative"}}},
 {"transform": [{"filter": {"field": "s", "oneOf": ["Lee Carter 1960-2009", "Lee Carter 1980-2009", "Bongaarts 1980-2009"]}}],
  "mark": {"type": "line", "clip": true, "strokeWidth": 1.5, "color": "black"},
  "encoding": {"x": {"field": "t", "type": "quantitative"}, "y": {"field": "v", "type": "quantitative"},
   "strokeDash": {"field": "s", "type": "nominal", "scale": {"domain": ["Lee Carter 1960-2009", "Lee Carter 1980-2009", "Bongaarts 1980-2009"], "range": [[8, 7], [19, 7], [1, 0]]},
    "legend": {"title": null, "orient": "none", "legendX": 12.5, "legendY": 78.5, "symbolSize": 3721, "symbolOffset": -1, "symbolStrokeWidth": 1.5, "symbolStrokeColor": "black", "labelOffset": 6}}}},
 {"data": {"values": [{}]}, "mark": {"type": "rect", "filled": false, "stroke": "black", "strokeWidth": 2},
  "encoding": {"x": {"datum": 1858.7, "type": "quantitative"}, "x2": {"datum": 2105.4}, "y": {"datum": 29.66, "type": "quantitative"}, "y2": {"datum": 91.99}}}
]},
{"width": 368, "height": 377, "data": {"name": "UKf"}, "layer": [
 {"transform": [{"filter": {"field": "s", "oneOf": ["HMD then +20%/year", "Table"]}}],
  "mark": {"type": "line", "clip": true, "strokeWidth": 7, "strokeCap": "round", "strokeJoin": "round"},
  "encoding": {
   "x": {"field": "t", "type": "quantitative", "scale": {"domain": [1900, 2100], "nice": false, "zero": false}, "axis": {"values": [1900, 1950, 2000, 2050, 2100], "format": "d", "labelPadding": 27}},
   "y": {"field": "v", "type": "quantitative", "scale": {"domain": [40, 90], "nice": false, "zero": false}, "axis": {"values": [40, 50, 60, 70, 80, 90], "labelPadding": 30}},
   "color": {"field": "s", "type": "nominal", "scale": {"domain": ["HMD then +20%/year", "Table"], "range": ["#0070C0", "#A6A6A6"]},
    "legend": {"title": "UK, females, e20", "orient": "none", "legendX": 12.5, "legendY": 3, "symbolStrokeWidth": 7, "encode": {"symbols": {"update": {"strokeCap": {"value": "round"}}}}}}
  }},
 {"transform": [{"filter": {"field": "s", "equal": "HMD projection"}}],
  "mark": {"type": "line", "clip": true, "color": "#0070C0", "strokeWidth": 7, "strokeDash": [5, 15], "strokeCap": "round"},
  "encoding": {"x": {"field": "t", "type": "quantitative"}, "y": {"field": "v", "type": "quantitative"}}},
 {"transform": [{"filter": {"field": "s", "oneOf": ["Lee Carter 1960-2009", "Lee Carter 1980-2009", "Bongaarts 1980-2009"]}}],
  "mark": {"type": "line", "clip": true, "strokeWidth": 1.5, "color": "black"},
  "encoding": {"x": {"field": "t", "type": "quantitative"}, "y": {"field": "v", "type": "quantitative"},
   "strokeDash": {"field": "s", "type": "nominal", "scale": {"domain": ["Lee Carter 1960-2009", "Lee Carter 1980-2009", "Bongaarts 1980-2009"], "range": [[8, 7], [19, 7], [1, 0]]},
    "legend": {"title": null, "orient": "none", "legendX": 12.5, "legendY": 78.5, "symbolSize": 3721, "symbolOffset": -1, "symbolStrokeWidth": 1.5, "symbolStrokeColor": "black", "labelOffset": 6}}}},
 {"data": {"values": [{}]}, "mark": {"type": "rect", "filled": false, "stroke": "black", "strokeWidth": 2},
  "encoding": {"x": {"datum": 1858.7, "type": "quantitative"}, "x2": {"datum": 2105.4}, "y": {"datum": 29.66, "type": "quantitative"}, "y2": {"datum": 91.99}}}
]},
{"width": 368, "height": 377, "data": {"name": "USm"}, "layer": [
 {"transform": [{"filter": {"field": "s", "oneOf": ["HMD then +20%/year", "GAM94-AA"]}}],
  "mark": {"type": "line", "clip": true, "strokeWidth": 7, "strokeCap": "round", "strokeJoin": "round"},
  "encoding": {
   "x": {"field": "t", "type": "quantitative", "scale": {"domain": [1900, 2100], "nice": false, "zero": false}, "axis": {"values": [1900, 1950, 2000, 2050, 2100], "format": "d", "labelPadding": 27}},
   "y": {"field": "v", "type": "quantitative", "scale": {"domain": [40, 90], "nice": false, "zero": false}, "axis": {"values": [40, 50, 60, 70, 80, 90], "labelPadding": 30}},
   "color": {"field": "s", "type": "nominal", "scale": {"domain": ["HMD then +20%/year", "GAM94-AA"], "range": ["#0070C0", "#A6A6A6"]},
    "legend": {"title": "USA, males, e20", "orient": "none", "legendX": 12.5, "legendY": 3, "symbolStrokeWidth": 7, "encode": {"symbols": {"update": {"strokeCap": {"value": "round"}}}}}}
  }},
 {"transform": [{"filter": {"field": "s", "equal": "HMD projection"}}],
  "mark": {"type": "line", "clip": true, "color": "#0070C0", "strokeWidth": 7, "strokeDash": [5, 15], "strokeCap": "round"},
  "encoding": {"x": {"field": "t", "type": "quantitative"}, "y": {"field": "v", "type": "quantitative"}}},
 {"transform": [{"filter": {"field": "s", "oneOf": ["Lee Carter 1960-2009", "Lee Carter 1980-2009", "Bongaarts 1980-2009"]}}],
  "mark": {"type": "line", "clip": true, "strokeWidth": 1.5, "color": "black"},
  "encoding": {"x": {"field": "t", "type": "quantitative"}, "y": {"field": "v", "type": "quantitative"},
   "strokeDash": {"field": "s", "type": "nominal", "scale": {"domain": ["Lee Carter 1960-2009", "Lee Carter 1980-2009", "Bongaarts 1980-2009"], "range": [[8, 7], [19, 7], [1, 0]]},
    "legend": {"title": null, "orient": "none", "legendX": 12.5, "legendY": 78.5, "symbolSize": 3721, "symbolOffset": -1, "symbolStrokeWidth": 1.5, "symbolStrokeColor": "black", "labelOffset": 6}}}},
 {"data": {"values": [{}]}, "mark": {"type": "rect", "filled": false, "stroke": "black", "strokeWidth": 2},
  "encoding": {"x": {"datum": 1858.7, "type": "quantitative"}, "x2": {"datum": 2105.4}, "y": {"datum": 29.66, "type": "quantitative"}, "y2": {"datum": 91.99}}}
]},
{"width": 368, "height": 377, "data": {"name": "USf"}, "layer": [
 {"transform": [{"filter": {"field": "s", "oneOf": ["HMD then +20%/year", "GAM94-AA"]}}],
  "mark": {"type": "line", "clip": true, "strokeWidth": 7, "strokeCap": "round", "strokeJoin": "round"},
  "encoding": {
   "x": {"field": "t", "type": "quantitative", "scale": {"domain": [1900, 2100], "nice": false, "zero": false}, "axis": {"values": [1900, 1950, 2000, 2050, 2100], "format": "d", "labelPadding": 27}},
   "y": {"field": "v", "type": "quantitative", "scale": {"domain": [40, 90], "nice": false, "zero": false}, "axis": {"values": [40, 50, 60, 70, 80, 90], "labelPadding": 30}},
   "color": {"field": "s", "type": "nominal", "scale": {"domain": ["HMD then +20%/year", "GAM94-AA"], "range": ["#0070C0", "#A6A6A6"]},
    "legend": {"title": "USA, females, e20", "orient": "none", "legendX": 12.5, "legendY": 3, "symbolStrokeWidth": 7, "encode": {"symbols": {"update": {"strokeCap": {"value": "round"}}}}}}
  }},
 {"transform": [{"filter": {"field": "s", "equal": "HMD projection"}}],
  "mark": {"type": "line", "clip": true, "color": "#0070C0", "strokeWidth": 7, "strokeDash": [5, 15], "strokeCap": "round"},
  "encoding": {"x": {"field": "t", "type": "quantitative"}, "y": {"field": "v", "type": "quantitative"}}},
 {"transform": [{"filter": {"field": "s", "oneOf": ["Lee Carter 1960-2009", "Lee Carter 1980-2009", "Bongaarts 1980-2009"]}}],
  "mark": {"type": "line", "clip": true, "strokeWidth": 1.5, "color": "black"},
  "encoding": {"x": {"field": "t", "type": "quantitative"}, "y": {"field": "v", "type": "quantitative"},
   "strokeDash": {"field": "s", "type": "nominal", "scale": {"domain": ["Lee Carter 1960-2009", "Lee Carter 1980-2009", "Bongaarts 1980-2009"], "range": [[8, 7], [19, 7], [1, 0]]},
    "legend": {"title": null, "orient": "none", "legendX": 12.5, "legendY": 78.5, "symbolSize": 3721, "symbolOffset": -1, "symbolStrokeWidth": 1.5, "symbolStrokeColor": "black", "labelOffset": 6}}}},
 {"data": {"values": [{}]}, "mark": {"type": "rect", "filled": false, "stroke": "black", "strokeWidth": 2},
  "encoding": {"x": {"datum": 1858.7, "type": "quantitative"}, "x2": {"datum": 2105.4}, "y": {"datum": 29.66, "type": "quantitative"}, "y2": {"datum": 91.99}}}
]},
{"width": 368, "height": 377, "data": {"values": [{}]}, "mark": {"type": "rect", "filled": false, "stroke": "black", "strokeWidth": 2},
 "encoding": {"x": {"datum": 1858.7, "type": "quantitative", "scale": {"domain": [1900, 2100], "nice": false, "zero": false}, "axis": null}, "x2": {"datum": 2105.4}, "y": {"datum": 29.66, "type": "quantitative", "scale": {"domain": [40, 90], "nice": false, "zero": false}, "axis": null}, "y2": {"datum": 91.99}}},
{"width": 368, "height": 377, "data": {"values": [{}]}, "mark": {"type": "rect", "filled": false, "stroke": "black", "strokeWidth": 2},
 "encoding": {"x": {"datum": 1858.7, "type": "quantitative", "scale": {"domain": [1900, 2100], "nice": false, "zero": false}, "axis": null}, "x2": {"datum": 2105.4}, "y": {"datum": 29.66, "type": "quantitative", "scale": {"domain": [40, 90], "nice": false, "zero": false}, "axis": null}, "y2": {"datum": 91.99}}}
]
}
